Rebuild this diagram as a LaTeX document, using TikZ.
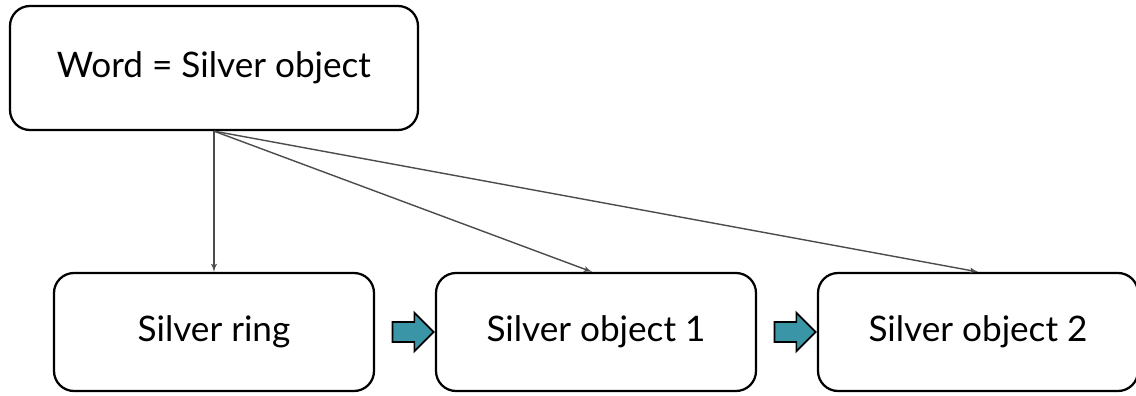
\documentclass[tikz,border=0pt]{standalone}
\usepackage{fontspec}
\setmainfont{Lato}
\usetikzlibrary{shapes,arrows}
\definecolor{steptea}{RGB}{58,150,166}
\tikzstyle{block} = [rectangle, draw, line width=1.6pt, fill=white,
    text centered, rounded corners=0.5cm, minimum width=10.2cm, minimum height=3.1cm,
    font=\fontsize{25}{30}\selectfont]
\tikzstyle{block2} = [rectangle, draw, line width=1.6pt, fill=white,
    text centered, rounded corners=0.5cm, minimum width=8cm, minimum height=2.95cm,
    font=\fontsize{25}{30}\selectfont]
\tikzstyle{nextarrow} = [single arrow, draw, line width=1.2pt, fill=steptea,
    inner xsep=0pt, inner ysep=0.23cm, minimum height=1.03cm, minimum width=0.92cm,
    single arrow head extend=0.23cm]
\tikzstyle{line} = [draw, line width=1pt, black!70, -latex']

\begin{document}
\begin{tikzpicture}[node distance = 6.6cm]
    \useasboundingbox (0,0) rectangle (28.4,-9.9);
    % Place nodes
    \node [block] at (5.35,-1.7) (word) {Word = Silver object};
    \node [block2, below of=word] (ring) {Silver ring};
    \node [block2, right of=ring, node distance=9.55cm] (obj1) {Silver object 1};
    \node [block2, right of=obj1, node distance=9.55cm] (obj2) {Silver object 2};
    \node [nextarrow, right of=ring, node distance=4.85cm] (next1) {};
    \node [nextarrow, right of=obj1, node distance=4.85cm] (next2) {};

    % Draw edges
    \path [line] (word.south) -- (ring.north);
    \path [line] (word.south) -- ([xshift=-0.1cm]obj1.north);
    \path [line] (word.south) -- (obj2.north);
\end{tikzpicture}
\end{document}
